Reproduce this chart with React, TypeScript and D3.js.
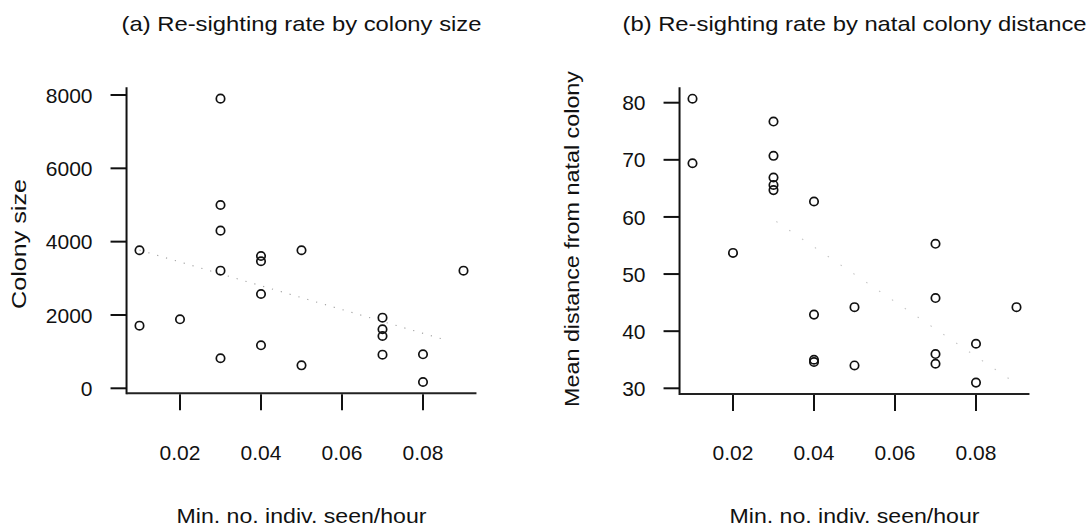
import React from "react";
import * as d3 from "d3";

// ---- Data ----
const rateA = [0.01, 0.01, 0.02, 0.03, 0.03, 0.03, 0.03, 0.03, 0.04, 0.04, 0.04, 0.04, 0.05, 0.05, 0.07, 0.07, 0.07, 0.07, 0.08, 0.08, 0.09];
const colonySize = [3765, 1708, 1882, 7900, 5000, 4300, 3208, 820, 3609, 3465, 2572, 1173, 3765, 627, 1926, 1610, 1427, 917, 928, 172, 3208];

const rateB = [0.01, 0.01, 0.02, 0.03, 0.03, 0.03, 0.03, 0.03, 0.04, 0.04, 0.04, 0.04, 0.05, 0.05, 0.07, 0.07, 0.07, 0.07, 0.08, 0.08, 0.09];
const natalDist = [80.7, 69.4, 53.7, 76.7, 70.7, 66.9, 65.6, 64.7, 62.7, 42.9, 35.0, 34.6, 44.2, 34.0, 55.3, 45.8, 36.0, 34.3, 37.8, 31.0, 44.2];

const xTicks = [0.02, 0.04, 0.06, 0.08];
const yTicksA = [0, 2000, 4000, 6000, 8000];
const yTicksB = [30, 40, 50, 60, 70, 80];

// faint trend lines (endpoints)
const trendA = [
  { x: 0.01, y: 3770 },
  { x: 0.085, y: 1337 },
];
const trendB = [
  { x: 0.0307, y: 59.2 },
  { x: 0.0904, y: 30.6 },
];

const titleA = "(a) Re-sighting rate by colony size";
const titleB = "(b) Re-sighting rate by natal colony distance";
const xLabel = "Min. no. indiv. seen/hour";
const yLabelA = "Colony size";
const yLabelB = "Mean distance from natal colony";

const FONT = "'Liberation Sans', Arial, Helvetica, sans-serif";

function ext(vals: number[]): [number, number] {
  const [lo, hi] = d3.extent(vals) as [number, number];
  const pad = (hi - lo) * 0.04;
  return [lo - pad, hi + pad];
}

type PanelProps = {
  xs: number[];
  ys: number[];
  xScale: d3.ScaleLinear<number, number>;
  yScale: d3.ScaleLinear<number, number>;
  yTicks: number[];
  trend: { x: number; y: number }[];
  trendColor: string;
  trendDash: string;
  title: string;
  titleLen: number;
  yLabel: string;
  yLabelLen: number;
  yLabelX: number;
  yLabelY: number;
};

function Panel(p: PanelProps) {
  const [x0, x1] = ext(p.xs);
  const [y0, y1] = ext(p.ys);
  const left = p.xScale(x0);
  const right = p.xScale(x1);
  const bottom = p.yScale(y0);
  const top = p.yScale(y1);
  const cx = (left + right) / 2;
  const line = d3
    .line<{ x: number; y: number }>()
    .x((d) => p.xScale(d.x))
    .y((d) => p.yScale(d.y));
  return (
    <g fontFamily={FONT} fill="#111">
      <text x={cx} y={31} fontSize={21} textAnchor="middle" textLength={p.titleLen} lengthAdjust="spacingAndGlyphs">
        {p.title}
      </text>
      {/* trend line */}
      <path d={line(p.trend) || ""} fill="none" stroke={p.trendColor} strokeWidth={1.1} strokeDasharray={p.trendDash} />
      {/* axes */}
      <line x1={left} x2={left} y1={top} y2={bottom + 1} stroke="#111" strokeWidth={2} />
      <line x1={left} x2={right} y1={bottom} y2={bottom} stroke="#222" strokeWidth={2} />
      {p.yTicks.map((t) => (
        <g key={"y" + t}>
          <line x1={left - 16} x2={left} y1={p.yScale(t)} y2={p.yScale(t)} stroke="#111" strokeWidth={2} />
          <text x={left - 34} y={p.yScale(t)} dy="0.36em" fontSize={21} textAnchor="end">
            {t}
          </text>
        </g>
      ))}
      {xTicks.map((t) => (
        <g key={"x" + t}>
          <line x1={p.xScale(t)} x2={p.xScale(t)} y1={bottom + 1} y2={bottom + 17} stroke="#111" strokeWidth={2} />
          <text x={p.xScale(t)} y={460} fontSize={21} textAnchor="middle">
            {t.toFixed(2)}
          </text>
        </g>
      ))}
      {/* points */}
      {p.xs.map((xv, i) => (
        <circle key={i} cx={p.xScale(xv)} cy={p.yScale(p.ys[i])} r={4.2} fill="none" stroke="#111" strokeWidth={1.7} />
      ))}
      <text x={cx} y={523} fontSize={21} textAnchor="middle" textLength={250} lengthAdjust="spacingAndGlyphs">
        {xLabel}
      </text>
      <text
        transform={`translate(${p.yLabelX},${p.yLabelY}) rotate(-90)`}
        fontSize={21}
        textAnchor="middle"
        textLength={p.yLabelLen}
        lengthAdjust="spacingAndGlyphs"
      >
        {p.yLabel}
      </text>
    </g>
  );
}

export default function App() {
  const xA = d3.scaleLinear().domain([0, 0.1]).range([99, 504]);
  const yA = d3.scaleLinear().domain([0, 8000]).range([388.3, 95]);
  const xB = d3.scaleLinear().domain([0, 0.1]).range([652, 1057]);
  const yB = d3.scaleLinear().domain([30, 80]).range([388.3, 102.7]);
  return (
    <svg width={1090} height={526} style={{ position: "absolute", left: 0, top: 0, background: "#fff" }}>
      <rect width={1090} height={526} fill="#fff" />
      <Panel
        xs={rateA}
        ys={colonySize}
        xScale={xA}
        yScale={yA}
        yTicks={yTicksA}
        trend={trendA}
        trendColor="#a0a0a0"
        trendDash="1.2 8"
        title={titleA}
        titleLen={360}
        yLabel={yLabelA}
        yLabelLen={130}
        yLabelX={26}
        yLabelY={244}
      />
      <Panel
        xs={rateB}
        ys={natalDist}
        xScale={xB}
        yScale={yB}
        yTicks={yTicksB}
        trend={trendB}
        trendColor="#c4c4c4"
        trendDash="1.5 14"
        title={titleB}
        titleLen={464}
        yLabel={yLabelB}
        yLabelLen={336}
        yLabelX={579}
        yLabelY={239}
      />
    </svg>
  );
}
